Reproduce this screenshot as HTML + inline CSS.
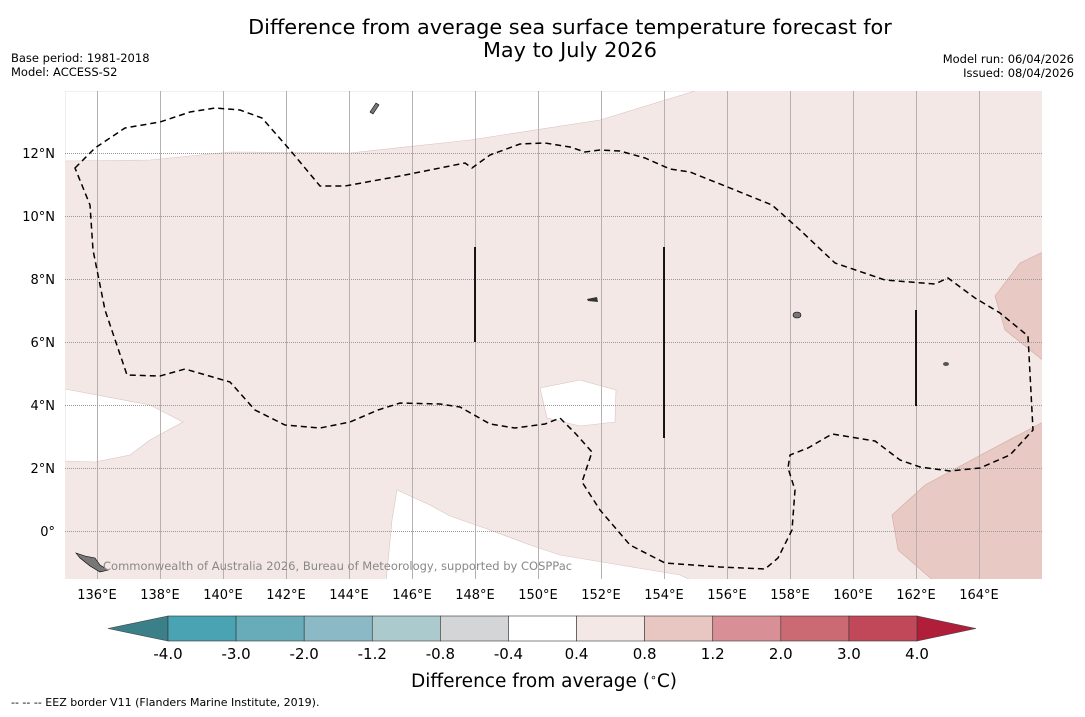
<!DOCTYPE html>
<html><head><meta charset="utf-8"><style>
body{margin:0;background:#fff;width:1085px;height:713px;overflow:hidden;font-family:"DejaVu Sans","Liberation Sans",sans-serif}
svg text{font-family:"DejaVu Sans","Liberation Sans",sans-serif}
</style></head><body>
<svg id="s" width="1085" height="713">
<text x="570" y="34" font-size="20.8" text-anchor="middle">Difference from average sea surface temperature forecast for</text>
<text x="570" y="57" font-size="20.8" text-anchor="middle">May to July 2026</text>
<text x="11" y="62" font-size="11.5">Base period: 1981-2018</text>
<text x="11" y="76" font-size="11.5">Model: ACCESS-S2</text>
<text x="1074" y="63" font-size="11.5" text-anchor="end">Model run: 06/04/2026</text>
<text x="1074" y="77" font-size="11.5" text-anchor="end">Issued: 08/04/2026</text>
<defs><clipPath id="mc"><rect x="65" y="91" width="977" height="488"/></clipPath></defs>
<g clip-path="url(#mc)">
<rect x="65" y="91" width="977" height="488" fill="#f4e8e6"/>
<path d="M65,91 L695,91 L600,120 L470,140 L350,153 L230,152 L150,160 L65,161 Z" fill="#fff" stroke="#d8c4c0" stroke-width="0.6"/>
<path d="M65,389 L150,405 L183,422 L150,440 L130,455 L95,462 L65,461 Z" fill="#fff" stroke="#d8c4c0" stroke-width="0.6"/>
<path d="M540,388 L580,380 L616,390 L615,422 L580,426 L547,418 Z" fill="#fff" stroke="#d8c4c0" stroke-width="0.6"/>
<path d="M397,490 L430,505 L450,516 L490,530 L530,545 L560,555 L620,565 L680,575 L695,582 L386,582 L392,520 Z" fill="#fff" stroke="#d8c4c0" stroke-width="0.6"/>
<path d="M1045,251 L1020,263 L995,296 L1005,330 L1045,362 Z" fill="#e8c9c3" stroke="#d0aaa4" stroke-width="0.6"/>
<path d="M1045,421 L990,450 L925,485 L892,515 L898,550 L935,582 L1045,582 Z" fill="#e8c9c3" stroke="#d0aaa4" stroke-width="0.6"/>
<g id="grid"></g>
<path d="M75,168 L95,148 L125,128 L160,122 L190,112 L215,108 L240,110 L262,118 L290,150 L320,186 L345,186 L400,176 L465,163 L472,168 L490,155 L520,144 L545,143 L570,147 L585,152 L600,150 L620,151 L645,158 L670,169 L690,172 L735,190 L772,205 L800,230 L835,263 L885,280 L935,284 L948,278 L975,298 L1000,313 L1028,336 L1033,430 L1010,455 L980,468 L950,471 L920,467 L900,460 L875,441 L832,434 L808,448 L790,455 L788,468 L795,490 L792,530 L778,558 L765,569 L720,567 L665,563 L630,545 L600,510 L582,482 L592,452 L575,433 L560,418 L545,424 L515,428 L490,424 L460,407 L440,404 L400,403 L378,410 L350,422 L320,428 L285,425 L255,410 L230,382 L185,369 L160,376 L127,375 L105,310 L93,250 L90,205 L75,168 Z" fill="none" stroke="#000" stroke-width="1.5" stroke-dasharray="6,4"/>
<line x1="475" y1="247" x2="475" y2="342" stroke="#000" stroke-width="1.8"/>
<line x1="664" y1="247" x2="664" y2="438" stroke="#000" stroke-width="1.8"/>
<line x1="916" y1="310" x2="916" y2="406" stroke="#000" stroke-width="1.8"/>
<path d="M370,112 L376,103 L379,105 L373,114 Z" fill="#777" stroke="#000" stroke-width="0.6"/>
<ellipse cx="797" cy="315" rx="4" ry="3" fill="#777" stroke="#000" stroke-width="0.6"/>
<path d="M76,553 L85,556 L95,558 L100,565 L108,570 L100,572 L90,566 L80,558 Z" fill="#777" stroke="#000" stroke-width="0.6"/>
<path d="M587,299 L597,297 L598,302 L588,301 Z" fill="#333"/>
<ellipse cx="946" cy="364" rx="3" ry="2" fill="#555"/>
<text x="103" y="570" font-size="11.5" fill="#888">Commonwealth of Australia 2026, Bureau of Meteorology, supported by COSPPac</text>
</g>
<g id="axes"></g>
<g id="cbar"></g>
<text x="544" y="687" font-size="18.5" text-anchor="middle">Difference from average (<tspan font-size="11" dy="-6">∘</tspan><tspan dy="6">C)</tspan></text>
<text x="11" y="706" font-size="11">--  --  -- EEZ border V11 (Flanders Marine Institute, 2019).</text>
</svg>
<script>
const lonTicks=[136,138,140,142,144,146,148,150,152,154,156,158,160,162,164];
const latTicks=[12,10,8,6,4,2,0];
const cbLabels=["-4.0","-3.0","-2.0","-1.2","-0.8","-0.4","0.4","0.8","1.2","2.0","3.0","4.0"];
const cbColors=["#4aa3b2","#69acb9","#8bb9c5","#aacacd","#d4d5d7","#ffffff","#f4e8e6","#e8c7c2","#d88f96","#cc6a74","#c14858"];
const NS="http://www.w3.org/2000/svg";
const xOf=lon=>97+(lon-136)*31.5;
const yOf=lat=>531-lat*31.5;
function mk(t,a,p){const e=document.createElementNS(NS,t);for(const k in a)e.setAttribute(k,a[k]);p.appendChild(e);return e;}
const grid=document.getElementById('grid'),axes=document.getElementById('axes'),cb=document.getElementById('cbar');
lonTicks.forEach(l=>{
 const gx=Math.round(xOf(l))+0.5;
 const g=mk('line',{x1:gx,x2:gx,y1:91,y2:579,stroke:'#b8b0ae','stroke-width':1},grid);
 
 
 const t=mk('text',{x:xOf(l),y:599,'font-size':13,'text-anchor':'middle'},axes);t.textContent=l+'°E';
 
 
});
latTicks.forEach(l=>{
 const gy=Math.round(yOf(l))+0.5;
 const g=mk('line',{x1:65,x2:1042,y1:gy,y2:gy,stroke:'#999','stroke-width':1,'stroke-dasharray':'1,1'},grid);
 
 
 const t=mk('text',{x:55,y:yOf(l)+5,'font-size':13,'text-anchor':'end'},axes);t.textContent=l===0?'0°':l+'°N';
 
 
});
const x0=168,x1=917,y0=616,h=25,w=(x1-x0)/cbColors.length;
const lt=mk('polygon',{points:`${x0},${y0} ${x0},${y0+h} 108,${y0+h/2}`,fill:'#3b7f89',stroke:'#444','stroke-width':0.6},cb);


const rt=mk('polygon',{points:`${x1},${y0} ${x1},${y0+h} 976,${y0+h/2}`,fill:'#b11e3a',stroke:'#444','stroke-width':0.6},cb);


cbColors.forEach((c,i)=>{
 const r=mk('rect',{x:x0+i*w,y:y0,width:w,height:h,fill:c,stroke:'#333','stroke-width':0.6},cb);
 
 
});
cbLabels.forEach((s,i)=>{
 const t=mk('text',{x:x0+i*w,y:659,'font-size':15,'text-anchor':'middle'},cb);t.textContent=s;
 
 
});
</script>
</body></html>
